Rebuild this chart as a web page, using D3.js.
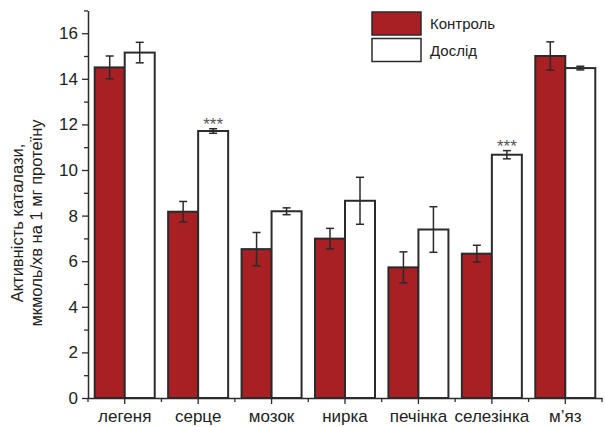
<!DOCTYPE html>
<html>
<head>
<meta charset="utf-8">
<script src="https://cdn.jsdelivr.net/npm/d3@7"></script>
<style>
body { margin: 0; background: #fff; }
text { font-family: "Liberation Sans", Arial, sans-serif; fill: #222; }
</style>
</head>
<body>
<svg id="chart" width="605" height="427"></svg>
<script>
var categories = ['легеня', 'серце', 'мозок', 'нирка', 'печінка', 'селезінка', 'м’яз'];
var control = [14.5, 8.17, 6.53, 6.99, 5.73, 6.33, 15.0];
var controlErr = [0.5, 0.45, 0.73, 0.45, 0.68, 0.37, 0.62];
var experiment = [15.15, 11.71, 8.19, 8.65, 7.39, 10.67, 14.47];
var experimentErr = [0.45, 0.1, 0.15, 1.03, 1.0, 0.18, 0.08];
var significant = [false, true, false, false, false, true, false];
var yTicks = [0, 2, 4, 6, 8, 10, 12, 14, 16];
var seriesNames = ['Контроль', 'Дослід'];
var seriesColors = ['#a81f24', '#ffffff'];

var svg = d3.select('#chart');
var plotLeft = 88, plotRight = 602, plotTop = 10, plotBottom = 398;

var x = d3.scaleBand().domain(categories).range([plotLeft, plotRight]).padding(0);
var y = d3.scaleLinear().domain([0, 17]).range([plotBottom, plotTop + 0.4]);
var barW = 30;

// bars: one group per category, two series side by side
var rows = categories.map(function(c, i) {
	return [
		{ cat: c, s: 0, v: control[i], e: controlErr[i], sig: false },
		{ cat: c, s: 1, v: experiment[i], e: experimentErr[i], sig: significant[i] }
	];
}).reduce(function(a, b) { return a.concat(b); }, []);

var cx = function(d) { return x(d.cat) + x.bandwidth() / 2 + (d.s === 0 ? -barW / 2 : barW / 2); };

svg.append('g').selectAll('rect').data(rows).enter()
	.append('rect')
	.attr('x', function(d) { return cx(d) - barW / 2; })
	.attr('y', function(d) { return y(d.v); })
	.attr('width', barW)
	.attr('height', function(d) { return y(0) - y(d.v); })
	.attr('fill', function(d) { return seriesColors[d.s]; })
	.attr('stroke', '#2b2b2b')
	.attr('stroke-width', 2);

var err = svg.append('g').attr('stroke', '#2b2b2b').attr('stroke-width', 1.5);
rows.forEach(function(d) {
	var xc = cx(d);
	err.append('line').attr('x1', xc).attr('x2', xc).attr('y1', y(d.v + d.e)).attr('y2', y(d.v - d.e));
	err.append('line').attr('x1', xc - 4).attr('x2', xc + 4).attr('y1', y(d.v + d.e)).attr('y2', y(d.v + d.e));
	err.append('line').attr('x1', xc - 4).attr('x2', xc + 4).attr('y1', y(d.v - d.e)).attr('y2', y(d.v - d.e));
	if (d.sig) {
		svg.append('text').attr('x', xc).attr('y', y(d.v + d.e) + 1)
			.attr('text-anchor', 'middle').attr('font-size', 17).style('fill', '#555')
			.text('***');
	}
});

// y axis with minor ticks at odd values
var yAxis = svg.append('g').attr('transform', 'translate(' + plotLeft + ',0)')
	.call(d3.axisLeft(y).tickValues(yTicks).tickSize(6).tickSizeOuter(0).tickPadding(4));
yAxis.select('.domain').attr('stroke', '#2b2b2b').attr('stroke-width', 1.5);
yAxis.selectAll('.tick line').attr('stroke', '#2b2b2b').attr('stroke-width', 1.3);
yAxis.selectAll('.tick text').attr('font-size', 17).style('font-family', '"Liberation Sans", Arial, sans-serif').style('fill', '#222');
svg.append('g').attr('transform', 'translate(' + plotLeft + ',0)')
	.call(d3.axisLeft(y).tickValues([1, 3, 5, 7, 9, 11, 13, 15, 17]).tickSize(4).tickFormat(''))
	.call(function(g) { g.select('.domain').remove(); g.selectAll('line').attr('stroke', '#2b2b2b').attr('stroke-width', 1.3); });

// x axis: major ticks at category centres, minor between them
var xAxis = svg.append('g').attr('transform', 'translate(0,' + plotBottom + ')')
	.call(d3.axisBottom(x).tickSize(6).tickSizeOuter(0).tickPadding(6));
xAxis.select('.domain').attr('stroke', '#2b2b2b').attr('stroke-width', 1.5);
xAxis.selectAll('.tick line').attr('stroke', '#2b2b2b').attr('stroke-width', 1.3);
xAxis.selectAll('.tick text').attr('font-size', 17).style('font-family', '"Liberation Sans", Arial, sans-serif').style('fill', '#222');
var bounds = categories.map(function(c) { return x(c); }).concat([plotRight]);
svg.append('g').selectAll('line').data(bounds).enter()
	.append('line')
	.attr('x1', function(d) { return d; }).attr('x2', function(d) { return d; })
	.attr('y1', plotBottom).attr('y2', plotBottom + 4)
	.attr('stroke', '#2b2b2b').attr('stroke-width', 1.3);

// axis title
svg.append('text')
	.attr('transform', 'translate(23,' + 223 + ') rotate(-90)')
	.attr('text-anchor', 'middle').attr('font-size', 16.5)
	.selectAll('tspan').data(['Активність каталази,', 'мкмоль/хв на 1 мг протеїну']).enter()
	.append('tspan').attr('x', 0).attr('dy', function(d, i) { return i === 0 ? 0 : 19; })
	.text(function(d) { return d; });

// legend
var legend = svg.append('g').attr('transform', 'translate(372,12)');
seriesNames.forEach(function(n, i) {
	legend.append('rect').attr('x', 0).attr('y', i * 26.5).attr('width', 49).attr('height', 23)
		.attr('fill', seriesColors[i]).attr('stroke', '#2b2b2b').attr('stroke-width', 1.5);
	legend.append('text').attr('x', 58).attr('y', i * 26.5 + 17).attr('font-size', 15).text(n);
});
</script>
</body>
</html>
